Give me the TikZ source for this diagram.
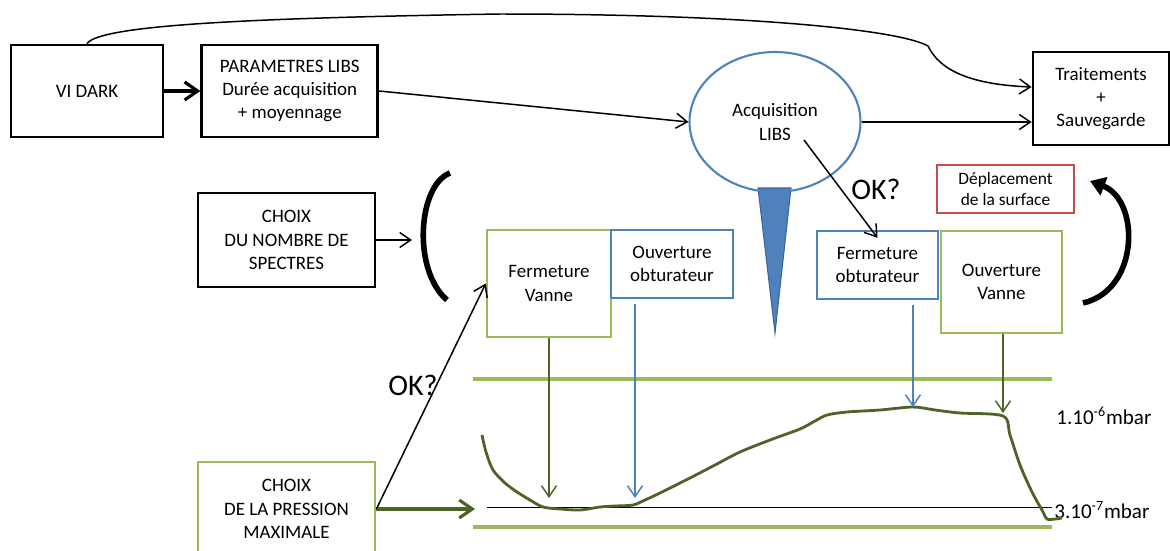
\documentclass[tikz,border=0pt]{standalone}
\usepackage{fontspec}
\setmainfont{Carlito}
\usetikzlibrary{arrows.meta, positioning, calc, shapes.geometric}
\definecolor{pblue}{HTML}{4F81BD}
\definecolor{dblue}{HTML}{3C6699}
\definecolor{lgreen}{HTML}{9BBB59}
\definecolor{dgreen}{HTML}{4F6228}
\definecolor{pred}{HTML}{C0504D}
\tikzset{
  txt/.style={font=\fontsize{10.8}{13.3}\selectfont, align=center},
  blk/.style={txt, draw, line width=1.6pt},
  gbox/.style={txt, draw=lgreen, line width=1.4pt},
  bbox/.style={txt, draw=pblue, line width=1.4pt},
  rbox/.style={draw=pred, line width=1.2pt, align=center, font=\fontsize{9.9}{11.9}\selectfont},
  arr/.style={-{Straight Barb[length=2.2mm, width=3mm]}, line width=0.85pt},
  bigarr/.style={-{Straight Barb[length=2.6mm, width=3.6mm]}, line width=1.8pt},
  garr/.style={arr, draw=dgreen},
  barr/.style={arr, draw=pblue},
  level/.style={draw=lgreen, line width=2.2pt},
  okq/.style={font=\fontsize{17}{20}\selectfont},
  mbar/.style={font=\fontsize{12}{14}\selectfont, anchor=west, inner sep=0pt},
}

\begin{document}
\begin{tikzpicture}[x=0.02cm, y=-0.02cm]
    \useasboundingbox (0,0) rectangle (1170,551);
    % top row
    \node[blk, minimum width=3.04cm, minimum height=1.84cm] (vidark) at (87,91) {VI DARK};
    \node[blk, minimum width=3.52cm, minimum height=1.84cm, right=0.72cm of vidark] (param) {PARAMETRES LIBS\\Durée acquisition\\+ moyennage};
    \fill[pblue, draw=dblue, line width=0.6pt] (758,188) -- (791,188) -- (775,333) -- cycle;
    \node[ellipse, draw=pblue, line width=1.2pt, txt, minimum width=3.42cm, minimum height=2.8cm] (acq) at (775,122) {Acquisition\\LIBS};
    \node[blk, minimum width=2.72cm, minimum height=1.86cm] (traite) at (1101,98.5) {Traitements\\+\\Sauvegarde};
    % middle row
    \node[blk, minimum width=3.54cm, minimum height=1.88cm] (spectres) at (286.5,240) {CHOIX\\DU NOMBRE DE\\SPECTRES};
    \node[gbox, minimum width=2.48cm, minimum height=2.14cm] (fvanne) at (549,283.5) {Fermeture\\Vanne};
    \node[bbox, minimum width=2.44cm, minimum height=1.36cm] (oobt) at (672,264) {Ouverture\\obturateur};
    \node[bbox, minimum width=2.42cm, minimum height=1.36cm] (fobt) at (877.5,265) {Fermeture\\obturateur};
    \node[gbox, minimum width=2.42cm, minimum height=2.04cm] (ovanne) at (1001.5,282) {Ouverture\\Vanne};
    \node[rbox, minimum width=2.74cm, minimum height=0.96cm] (deplac) at (1005.5,189) {Déplacement\\de la surface};
    \node[gbox, line width=1.6pt, minimum width=3.54cm, minimum height=1.88cm] (pression) at (286.5,509) {CHOIX\\DE LA PRESSION\\MAXIMALE};
    \node[okq] (ok1) at (876,189) {OK?};
    \node[okq] (ok2) at (413,385) {OK?};
    % pressure levels
    \draw[level] (473,379) -- (1052,379);
    \draw[level] (473,527) -- (1052,527);
    \draw[line width=0.8pt] (487,507.5) -- (1052,507.5);
    \node[mbar] (m1) at (1056,416) {1.10\textsuperscript{-6}mbar};
    \node[mbar] (m2) at (1054,510) {3.10\textsuperscript{-7}mbar};
    \draw[dgreen, line width=1.6pt, line join=round] plot[smooth, tension=0.5] coordinates {
      (482,435) (486,452) (493,470) (505,483) (517,492) (530,500) (543,507) (560,509)
      (580,510) (600,507) (615,506) (633,505) (645,500) (660,493) (690,478) (715,465)
      (740,452) (770,440) (800,429) (815,421) (827,415) (847,412) (880,410) (913,407)
      (935,410) (960,413) (1003,416) (1010,435) (1020,465) (1032,492) (1042,510)
      (1047,519) (1055,519) (1062,518)};
    % connectors
    \draw[bigarr] (vidark) -- (param);
    \draw[arr] (param.east) -- (acq.west);
    \draw[arr] (acq.east) -- (acq.east -| traite.west);
    \draw[arr] (vidark.north) .. controls (100,25) and (250,18) .. (500,14)
      .. controls (750,14) and (900,30) .. (928,46)
      .. controls (936,62) and (955,84) .. ([yshift=0.23cm]traite.west);
    \draw[arr] ($(acq.center)+(29,18)$) -- ([yshift=-0.16cm]fobt.north);
    \coordinate (sp) at (412,242);
    \draw[arr] (spectres.east) -- (spectres.east -| sp);
    \coordinate (pin) at (475,508);
    \draw[bigarr, draw=dgreen] (pression.east) -- (pression.east -| pin);
    \draw[arr] (pression.east) -- (fvanne.west);
    \coordinate (v1) at (549,498);
    \coordinate (v2) at (635,498);
    \coordinate (v3) at (913,407);
    \coordinate (v4) at (1003,413);
    \draw[garr] (v1 |- fvanne.south) -- (v1);
    \draw[barr] ($(v2 |- oobt.south)+(0,5)$) -- (v2);
    \draw[barr] ($(v3 |- fobt.south)+(0,5)$) -- (v3);
    \draw[garr] (v4 |- ovanne.south) -- (v4);
    % cycle arcs
    \draw[line width=3.2pt] (450,173) .. controls (418,185) and (412,270) .. (447,300);
    \draw[line width=3.2pt, -{Triangle[length=3mm, width=3.8mm]}] (1083,303) .. controls (1140,290) and (1140,200) .. (1090,181);
\end{tikzpicture}
\end{document}
